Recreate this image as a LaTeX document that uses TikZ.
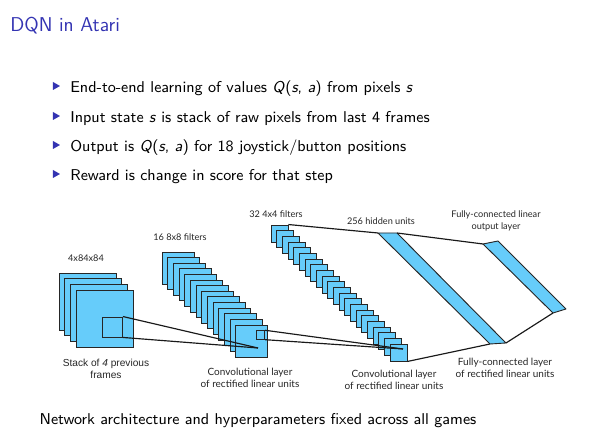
\documentclass[tikz,border=0pt]{standalone}
\usepackage{fontspec}
\newfontfamily\figfont{Lato}
\newfontfamily\stackfont{Liberation Sans}
\usetikzlibrary{positioning}
\definecolor{beamerblue}{RGB}{51,51,178}
\definecolor{mapblue}{RGB}{102,204,250}
\newcommand\sv[1]{\textsl{#1}}

\begin{document}
\begin{tikzpicture}[
      x=0.6pt, y=-0.6pt,
      slide/.style={font=\sffamily\fontsize{9.4}{11}\selectfont, inner sep=0pt},
      item/.style={slide, anchor=base west},
      fmap/.style={draw=black!85, fill=mapblue, line width=0.55pt, inner sep=0pt},
      layer/.style={draw=black!85, fill=mapblue, line width=0.55pt, line join=round},
      wire/.style={draw=black!90, line width=0.7pt},
      lbl/.style={font=\figfont\fontsize{5.5}{7.2}\selectfont, align=center, text=black!85},
      layercap/.style={lbl, font=\figfont\fontsize{6}{7.2}\selectfont}
    ]
      \useasboundingbox (0,0) rectangle (615,441);

      \node[anchor=base west, inner sep=0pt, text=beamerblue, font=\sffamily\fontsize{12}{14}\selectfont] (title) at (10,32) {DQN in Atari};

      \foreach \b in {93,123,152,181}
        \fill[beamerblue] (53,\b-11) -- (60,\b-7) -- (53,\b-3) -- cycle;
      \node[item] (item1) at (70,93) {End-to-end learning of values \sv{Q}(\sv{s}, \sv{a}) from pixels \sv{s}};
      \node[item] (item2) at (70,123) {Input state \sv{s} is stack of raw pixels from last 4 frames};
      \node[item] (item3) at (70,152) {Output is \sv{Q}(\sv{s}, \sv{a}) for 18 joystick/button positions};
      \node[item] (item4) at (70,181) {Reward is change in score for that step};

      \foreach \i in {0,...,3}
        \node[fmap, minimum size=34.2pt] (in\i) at ({87.5+5.67*\i},{301.5+5.67*\i}) {};
      \node[fmap, minimum size=12pt] (inpatch) at (112.5,327) {};

      \foreach \i in {0,...,13}
        \node[fmap, minimum size=19.2pt] (c1-\i) at ({178+5.67*\i},{268+5.62*\i}) {};
      \node[fmap, minimum size=5.1pt] (c1patch) at (260.5,335) {};

      \foreach \i in {0,...,21}
        \node[fmap, minimum size=10.2pt] (c2-\i) at ({279.5+5.667*\i},{233.5+5.667*\i}) {};

      \coordinate (c1focus) at (258,348);
      \coordinate (c2focus) at (403,349);
      \coordinate (h1) at (378,233);
      \coordinate (h2) at (397,233);
      \coordinate (h3) at (506,343);
      \coordinate (h4) at (490,344);
      \coordinate (o1) at (483,244);
      \coordinate (o2) at (498,241);
      \coordinate (o3) at (566,309);
      \coordinate (o4) at (553,313);
      \draw[layer] (h1) -- (h2) -- (h3) -- (h4) -- cycle;
      \draw[layer] (o1) -- (o2) -- (o3) -- (o4) -- cycle;

      \draw[wire] (inpatch.north east) -- (c1focus);
      \draw[wire] (inpatch.south east) -- (c1focus);
      \draw[wire] (c1patch.north east) -- (c2focus);
      \draw[wire] (c1patch.south east) -- (c2focus);
      \draw[wire] (c2-0.north east) -- (h1);
      \draw[wire] (c2-21.south east) -- (h4);
      \draw[wire] (h2) -- (o1);
      \draw[wire] (h3) -- (o4);

      \node[lbl] (inlbl) at (86,258) {4x84x84};
      \node[lbl] (c1lbl) at (180,237) {16 8x8 filters};
      \node[lbl] (c2lbl) at (276,214) {32 4x4 filters};
      \node[lbl] (hidlbl) at (381,221) {256 hidden units};
      \node[lbl] (outlbl) at (496,221) {Fully-connected linear\\output layer};
      \node[lbl, font=\stackfont\fontsize{6.1}{7.4}\selectfont] (incap) at (106,369) {Stack of \textit{4} previous\\frames};
      \node[layercap] (c1cap) at (250,378) {Convolutional layer\\of rectified linear units};
      \node[layercap] (c2cap) at (394,380) {Convolutional layer\\of rectified linear units};
      \node[layercap] (fccap) at (505,368) {Fully-connected layer\\of rectified linear units};

      \node[slide, anchor=base] (summary) at (258,425) {Network architecture and hyperparameters fixed across all games};
    \end{tikzpicture}
\end{document}
